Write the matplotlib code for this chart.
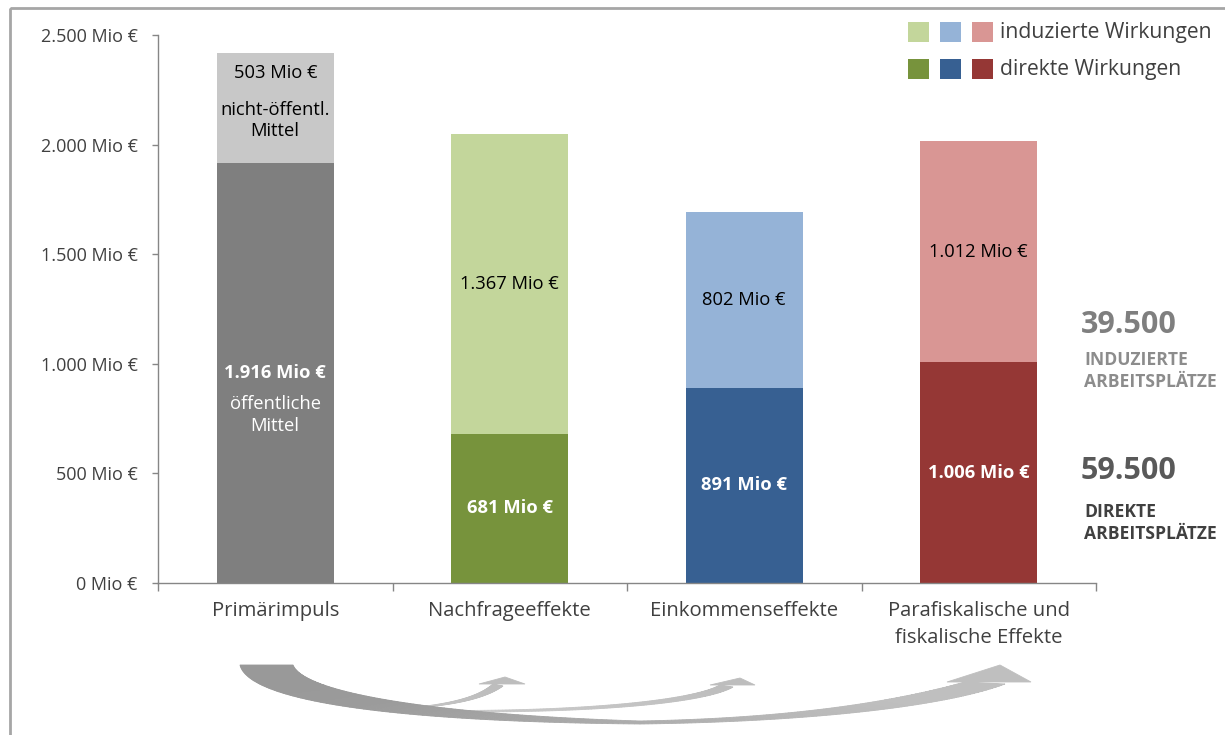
from math import comb

import numpy as np
import matplotlib
matplotlib.use('Agg')
import matplotlib.pyplot as plt
from matplotlib.patches import Rectangle, Polygon

plt.rcParams['font.family'] = ['Open Sans', 'DejaVu Sans']

# chart data (Mio €)
categories = ['Primärimpuls', 'Nachfrageeffekte', 'Einkommenseffekte',
              'Parafiskalische und\nfiskalische Effekte']
base_values = [1916, 681, 891, 1006]    # öffentliche Mittel / direkte Wirkungen
top_values = [503, 1367, 802, 1012]     # nicht-öffentl. Mittel / induzierte Wirkungen
base_colors = ['#7f7f7f', '#77933c', '#376092', '#953735']
top_colors = ['#c8c8c8', '#c3d69b', '#95b3d7', '#d99694']
yticks = [0, 500, 1000, 1500, 2000, 2500]
legend_labels = ['induzierte Wirkungen', 'direkte Wirkungen']
jobs_induced = 39500
jobs_direct = 59500

W, H = 1225, 735
TXT = '#404040'
FS = 13.2


def fmt(v):
    return '{:,}'.format(v).replace(',', '.')


def bezier(pts, t):
    p = np.asarray(pts, float)
    n = len(p) - 1
    return sum(comb(n, k) * ((1 - t) ** (n - k) * t ** k)[:, None] * p[k]
               for k in range(n + 1))


def band(ax, outer, inner, shades, n=120):
    # filled strip between two bezier edges, shaded piece by piece
    t = np.linspace(0, 1, n)
    a = bezier(outer, t)
    b = bezier(inner, t)
    g = np.interp(t, np.linspace(0, 1, len(shades)), shades)
    for i in range(n - 1):
        quad = [a[i], a[i + 1], b[i + 1], b[i]]
        col = str(round(g[i], 3))
        ax.add_patch(Polygon(quad, closed=True, fc=col, ec=col, lw=0.6))


def head(ax, pts, shade):
    ax.add_patch(Polygon(pts, closed=True, fc=str(shade), ec=str(shade), lw=0.6))


fig = plt.figure(figsize=(W / 100, H / 100), dpi=100)

ax = fig.add_axes([158 / W, 1 - 583 / H, (1096 - 158) / W, (583 - 35) / H])
x = np.arange(len(categories))
ax.bar(x, base_values, width=0.5, color=base_colors, zorder=2)
ax.bar(x, top_values, bottom=base_values, width=0.5, color=top_colors, zorder=2)
ax.set_xlim(-0.5, len(categories) - 0.5)
ax.set_ylim(0, 2500)

for s in ['top', 'right']:
    ax.spines[s].set_visible(False)
for s in ['left', 'bottom']:
    ax.spines[s].set_color('#868686')
    ax.spines[s].set_linewidth(1)

ax.set_yticks(yticks)
ax.set_yticklabels([fmt(v) + ' Mio €' for v in yticks], fontsize=13, color=TXT)
ax.tick_params(axis='y', length=4.5, width=1, color='#868686', pad=10)

ax.set_xticks(np.arange(len(categories) + 1) - 0.5)
ax.set_xticklabels([])
ax.tick_params(axis='x', which='major', length=6, width=1, color='#868686')
ax.set_xticks(x, minor=True)
ax.set_xticklabels(categories, minor=True, fontsize=14.6, color=TXT,
                   linespacing=1.45)
ax.tick_params(axis='x', which='minor', length=0, pad=13)

# value labels in the segments
for i in range(len(categories)):
    mid_b = base_values[i] / 2
    mid_t = base_values[i] + top_values[i] / 2
    ax.annotate(fmt(base_values[i]) + ' Mio €', (x[i], mid_b),
                ha='center', va='center', color='white', fontsize=FS,
                fontweight='bold')
    if i == 0:
        ax.annotate('öffentliche\nMittel', (x[i], mid_b), xytext=(0, -30.5),
                    textcoords='offset points', ha='center', va='center',
                    color='white', fontsize=FS, linespacing=1.3)
        ax.annotate(fmt(top_values[i]) + ' Mio €', (x[i], mid_t), xytext=(0, 25),
                    textcoords='offset points', ha='center', va='center',
                    color='black', fontsize=FS)
        ax.annotate('nicht-öffentl.\nMittel', (x[i], mid_t), xytext=(0, -9),
                    textcoords='offset points', ha='center', va='center',
                    color='black', fontsize=FS, linespacing=1.25)
    else:
        ax.annotate(fmt(top_values[i]) + ' Mio €', (x[i], mid_t),
                    ha='center', va='center', color='black', fontsize=FS)

# overlay in pixel coordinates for frame, legend, job numbers and arrows
ov = fig.add_axes([0, 0, 1, 1], zorder=3)
ov.set_xlim(0, W)
ov.set_ylim(H, 0)
ov.axis('off')
ov.patch.set_alpha(0)

ov.add_patch(Rectangle((10, 8), W + 20, H + 20, fill=False, ec='#a6a6a6', lw=2))

# legend: one swatch per effect column, light row = induced, dark row = direct
for row, (cols, label) in enumerate(zip([top_colors[1:], base_colors[1:]],
                                        legend_labels)):
    y0 = 22 + row * 37
    for k, col in enumerate(cols):
        ov.add_patch(Rectangle((908 + k * 32, y0), 21, 20, fc=col, ec='none'))
    ov.text(1000, y0 + 10, label, fontsize=15.2, color=TXT, va='center', ha='left')

# job numbers
ov.text(1081, 325, fmt(jobs_induced), fontsize=22, fontweight='bold',
        color='#7f7f7f', va='center', ha='left')
ov.text(1084, 371, 'INDUZIERTE\nARBEITSPLÄTZE', fontsize=12.6, fontweight='bold',
        color='#8c8c8c', va='center', ha='left', linespacing=1.25)
ov.text(1081, 471, fmt(jobs_direct), fontsize=22, fontweight='bold',
        color='#595959', va='center', ha='left')
ov.text(1084, 523, 'DIREKTE\nARBEITSPLÄTZE', fontsize=12.6, fontweight='bold',
        color='#404040', va='center', ha='left', linespacing=1.25)

# flow arrows below the categories
# small branch to Nachfrageeffekte
band(ov, [(395, 709), (450, 707), (485, 699), (503, 686)],
     [(395, 709), (450, 705), (478, 697), (493, 684)], [0.77, 0.74])
head(ov, [(479, 684), (505, 677), (525, 684)], 0.74)
# branch to Einkommenseffekte
band(ov, [(405, 711), (560, 715), (700, 706), (733, 687)],
     [(405, 710), (560, 713), (690, 702), (720, 685)], [0.8, 0.77, 0.74])
head(ov, [(710, 685), (740, 678), (755, 685)], 0.74)
# main sweep from Primärimpuls: crescent part, then tail to the last column
band(ov, [(240, 665), (250, 705), (420, 722), (640, 724)],
     [(293, 665), (305, 695), (450, 715), (640, 721)],
     [0.6, 0.6, 0.61, 0.64, 0.68])
band(ov, [(640, 724), (800, 722), (940, 708), (1005, 684)],
     [(640, 721), (800, 718), (900, 700), (965, 682)],
     [0.68, 0.72, 0.75, 0.75])
head(ov, [(947, 682), (1000, 665), (1031, 682)], 0.75)

fig.savefig('out.png', dpi=100)
